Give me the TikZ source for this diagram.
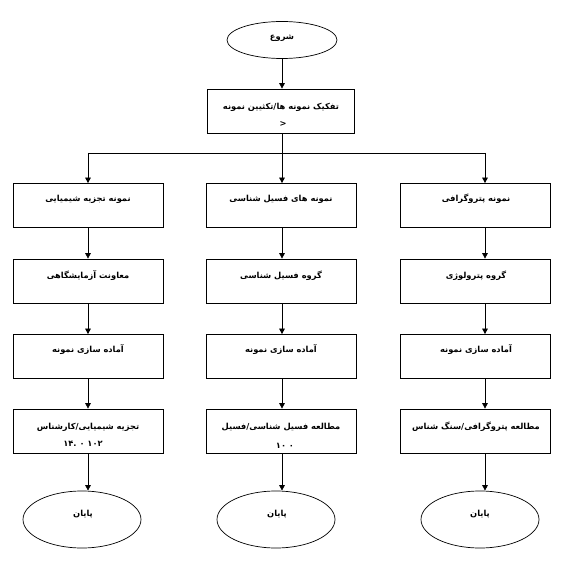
\documentclass[tikz,border=0pt]{standalone}
\usepackage{fontspec}
\usetikzlibrary{shapes.geometric,arrows.meta}
\newfontfamily\arabicfont[Script=Arabic]{DejaVu Sans}
\TeXXeTstate=1
\newcommand{\fa}[1]{{\arabicfont\bfseries\beginR #1\endR}}
\begin{document}
\begin{tikzpicture}[x=1pt,y=-1pt,
  every path/.style={line width=0.7pt},
  stepbox/.style={draw, rectangle, minimum width=150pt, minimum height=44pt, inner sep=0pt},
  topbox/.style={draw, rectangle, minimum width=147pt, minimum height=44pt, inner sep=0pt},
  oval/.style={draw, ellipse, minimum width=118pt, minimum height=57pt, inner sep=0pt},
  startoval/.style={draw, ellipse, minimum width=110pt, minimum height=37pt, inner sep=0pt},
  txt/.style={inner sep=0pt, font=\fontsize{8.3}{10}\selectfont},
  arr/.style={-{Triangle[length=5.5pt,width=5.5pt]}}]
\useasboundingbox (0,0) rectangle (565,561);
% start
\node[startoval] (start) at (282,40) {};
\node[txt] (startt) at (282,38) {\fa{شروع}};
% top box
\node[topbox] (sep) at (280.5,111) {};
\node[txt] (sept1) at (281,107) {\fa{تفکیک نمونه ها/تکثیین نمونه}};
\node[txt] (sept2) at (283,124) {\fa{<}};
\draw[arr] (start.south) -- (start.south |- sep.north);
% junction
\coordinate (j2) at (282,153);
\coordinate (j1) at (88,153);
\coordinate (j3) at (485,153);
\draw (sep.south -| j2) -- (j2);
\draw (j1) -- (j3);
% column 1
\node[stepbox] (a1) at (88,205.5) {};
\node[stepbox] (a2) at (88,281) {};
\node[stepbox] (a3) at (88,356.5) {};
\node[stepbox] (a4) at (88,431) {};
\node[oval] (ae) at (82,519.5) {};
\node[txt] (a1t) at (88,199) {\fa{نمونه تجزیه شیمیایی}};
\node[txt] (a2t) at (88,276) {\fa{معاونت آزمایشگاهی}};
\node[txt] (a3t) at (88,350) {\fa{آماده سازی نمونه}};
\node[txt] (a4t) at (88,427) {\fa{تجزیه شیمیایی/کارشناس}};
\node[txt] (a4u) at (83,444) {\fa{\beginL .۱۴ ۰ ۱۰۲\endL}};
\node[txt] (aet) at (83,514) {\fa{پایان}};
% column 2
\node[stepbox] (b1) at (281.5,205.5) {};
\node[stepbox] (b2) at (281.5,281) {};
\node[stepbox] (b3) at (281.5,356.5) {};
\node[stepbox] (b4) at (281.5,431) {};
\node[oval] (be) at (276,519.5) {};
\node[txt] (b1t) at (281,199) {\fa{نمونه های فسیل شناسی}};
\node[txt] (b2t) at (281,276) {\fa{گروه فسیل شناسی}};
\node[txt] (b3t) at (281,350) {\fa{آماده سازی نمونه}};
\node[txt] (b4t) at (281,427) {\fa{مطالعه فسیل شناسی/فسیل}};
\node[txt] (b4u) at (285,446) {\fa{\beginL ۱۰ ۰\endL}};
\node[txt] (bet) at (277,514) {\fa{پایان}};
% column 3
\node[stepbox] (c1) at (475,205.5) {};
\node[stepbox] (c2) at (475,281) {};
\node[stepbox] (c3) at (475,356.5) {};
\node[stepbox] (c4) at (475,431) {};
\node[oval] (ce) at (480,519.5) {};
\node[txt] (c1t) at (476,199) {\fa{نمونه پتروگرافی}};
\node[txt] (c2t) at (476,276) {\fa{گروه پترولوژی}};
\node[txt] (c3t) at (476,350) {\fa{آماده سازی نمونه}};
\node[txt] (c4t) at (476,427) {\fa{مطالعه پتروگرافی/سنگ شناس}};
\node[txt] (cet) at (480,514) {\fa{پایان}};
% arrows
\foreach \col/\x in {a/j1,b/j2,c/j3}{
  \draw[arr] (\x) -- (\x |- \col1.north);
  \draw[arr] (\x |- \col1.south) -- (\x |- \col2.north);
  \draw[arr] (\x |- \col2.south) -- (\x |- \col3.north);
  \draw[arr] (\x |- \col3.south) -- (\x |- \col4.north);
  \draw[arr] (\x |- \col4.south) -- (\x |- \col e.north);
}
\end{tikzpicture}
\end{document}
